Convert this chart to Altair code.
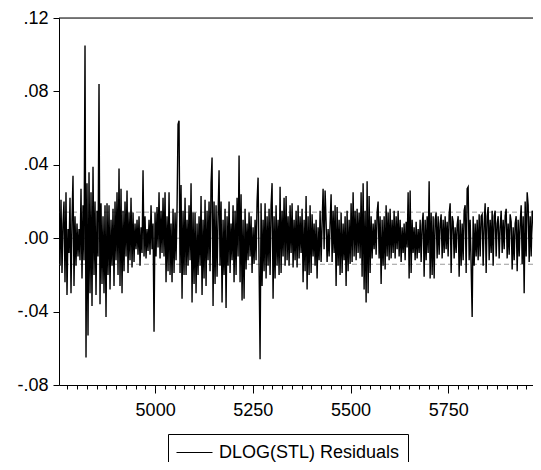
import altair as alt
import pandas as pd

SERIES_NAME = "DLOG(STL) Residuals"
OBS_START = 4754
OBS_STEP = 2.56
X_DOMAIN = [4754, 5967]
Y_DOMAIN = [-0.08, 0.12]
Y_TICKS = [-0.08, -0.04, 0.0, 0.04, 0.08, 0.12]
X_MINOR_TICKS = list(range(4775, 5967, 25))
SE_LEVELS = [0.0142, -0.0142]
ZERO_LEVEL = [0.0]
TOP_LEVEL = [0.12]

# residuals in thousandths
RESID_MILLI = [
    20, -15, 21, -19, 8, 20, -24, 25, -31, 5,
    -8, 22, -30, 10, 34, -26, 12, -15, 8, -10,
    5, -12, 27, -22, 18, -12, 105, -65, 30, -53,
    36, -30, 25, -37, 39, -20, 20, -31, 15, -10,
    84, -36, 19, -25, 12, -30, 18, -43, 19, -20,
    18, -28, 10, -15, 16, -26, 20, -12, 25, -20,
    38, -26, 27, -30, 15, -18, 20, -10, 26, -19,
    14, -12, 22, -16, 14, -13, 8, -6, 10, -9,
    12, -15, 6, -8, 37, -10, 12, -11, 5, -7,
    10, -9, 18, -6, 8, -51, 14, -10, 17, -5,
    25, -11, 15, -8, 22, -10, 25, -24, 12, -18,
    25, -20, 8, -24, 16, -19, 14, -12, 16, 62,
    64, -19, 29, -33, 15, -20, 22, -20, 10, -15,
    18, -12, 30, -35, 14, -25, 14, -30, 8, -20,
    12, -15, 23, -31, 10, -22, 21, -26, 15, -12,
    20, -18, 30, 44, -37, 20, -25, 18, -21, 12,
    37, -15, 20, -35, 10, -20, 16, -38, 12, -15,
    20, -19, 8, -12, 18, -24, 15, -20, 22, -10,
    45, -24, 24, -34, 10, -33, 16, -17, 8, -12,
    14, -10, 12, -19, 6, -14, 10, -12, 20, 33,
    -15, -66, 19, -26, 10, -18, 19, -22, 12, -15,
    16, -20, 18, 30, -33, 12, -22, 18, -15, 10,
    -20, 28, -19, 15, -10, 22, -15, 23, -12, 12,
    -15, 18, -8, 19, -16, 10, -12, 15, -16, 18,
    -11, 12, -8, 16, -24, 10, -18, 23, -28, 12,
    -20, 18, -19, 13, -10, 8, -15, 10, -22, 6,
    -12, 15, -13, 8, 27, -6, 26, 9, -13, 5,
    -10, 8, 24, -13, 15, -8, 18, -26, 17, -15,
    10, -20, 14, -19, 8, -12, 12, -26, 15, -18,
    10, -14, 19, -13, 25, -10, 15, -12, 16, -8,
    14, -11, 25, -21, 30, -28, 15, -35, 31, -30,
    23, -19, 12, -11, 8, -6, 10, -9, 14, 20,
    -11, 12, -25, 10, -15, 12, -17, 18, -10, 14,
    -12, 16, -11, 10, -8, 15, -11, 12, -6, 15,
    -10, 10, -13, 6, -8, 8, -12, 9, -5, 25,
    -22, 26, -19, 10, -8, 6, -12, 9, -11, 5,
    -8, 10, -13, 7, 14, -21, 10, -12, 12, -8,
    31, -22, 14, -20, 12, -22, 10, 14, -11, 12,
    -9, 8, 13, -11, 10, -8, 12, -6, 9, -10,
    13, 19, -19, 12, 9, -11, 6, -8, 7, 12,
    -21, 10, -15, 8, -12, 15, 18, -19, 27, 28,
    -12, 10, -15, -43, 12, -15, 8, -10, 10, -12,
    13, -10, 12, 13, -15, 8, 19, -19, 12, 17,
    -12, 10, -8, 15, -15, 12, 15, -10, 8, 12,
    -11, 6, 15, -8, 10, -6, 12, 16, -11, 8,
    -9, 13, 9, -17, 6, -12, 8, 12, -18, 10,
    -10, 8, 18, -14, 12, -30, 20, -10, 25, 18,
    -13, 12, -10, 15, 11, -6, 8, -4, 10, -5,
    7, -3,
]

FONT = "Liberation Sans"

obs = [OBS_START + i * OBS_STEP for i in range(len(RESID_MILLI))]
df = pd.DataFrame({
    "obs": obs,
    "resid": [v / 1000.0 for v in RESID_MILLI],
    "series": SERIES_NAME,
})

xscale = alt.Scale(domain=X_DOMAIN, nice=False, zero=False)
yscale = alt.Scale(domain=Y_DOMAIN, nice=False, zero=False)

xaxis = alt.Axis(
    values=X_MINOR_TICKS,
    format="d",
    labelExpr="datum.value % 250 === 0 ? datum.label : ''",
    tickSize={"condition": {"test": "datum.value % 250 === 0", "value": 8}, "value": 4},
    tickColor="black",
    domainColor="black",
    domainWidth=1,
    labelFont=FONT,
    labelFontSize=18,
    labelColor="black",
    labelPadding=8,
    labelFlush=False,
    labelOverlap=False,
    grid=False,
    title=None,
)
yaxis = alt.Axis(
    values=Y_TICKS,
    labelExpr="(datum.value < 0 ? '-' : '') + replace(format(abs(datum.value), '.2f'), '0.', '.')",
    tickSize=6,
    tickColor="black",
    domainColor="black",
    domainWidth=1,
    labelFont=FONT,
    labelFontSize=18,
    labelColor="black",
    labelPadding=5,
    grid=False,
    title=None,
)

top_border = alt.Chart(pd.DataFrame({"level": TOP_LEVEL})).mark_rule(
    color="black", strokeWidth=1
).encode(y=alt.Y("level:Q", scale=yscale, axis=yaxis, title=None))

zero_line = alt.Chart(pd.DataFrame({"level": ZERO_LEVEL})).mark_rule(
    color="#9a9a9a", strokeWidth=1
).encode(y=alt.Y("level:Q", scale=yscale, axis=yaxis, title=None))

se_lines = alt.Chart(pd.DataFrame({"level": SE_LEVELS})).mark_rule(
    color="#9a9a9a", strokeWidth=1, strokeDash=[5, 3]
).encode(y=alt.Y("level:Q", scale=yscale, axis=yaxis, title=None))

line = alt.Chart(df).mark_line(strokeWidth=1.4, clip=True).encode(
    x=alt.X("obs:Q", scale=xscale, axis=xaxis, title=None),
    y=alt.Y("resid:Q", scale=yscale, axis=yaxis, title=None),
    color=alt.Color(
        "series:N",
        scale=alt.Scale(range=["#000000"]),
        legend=alt.Legend(
            title=None,
            orient="none",
            legendX=109,
            legendY=416,
            strokeColor="black",
            fillColor="white",
            padding=8,
            symbolType="M-1,0L2.6,0",
            symbolSize=400,
            symbolStrokeWidth=1,
            symbolFillColor="transparent",
            labelFont=FONT,
            labelFontSize=18,
            labelColor="black",
            labelOffset=22,
            labelLimit=400,
        ),
    ),
)

chart = alt.layer(zero_line, se_lines, line, top_border).properties(
    width=474,
    height=367,
    autosize=alt.AutoSizeParams(type="none"),
    padding={"left": 51, "top": 10, "right": 0, "bottom": 77},
).configure_view(stroke=None).configure(background="white")

chart.save("out.html", embed_options={"renderer": "svg", "actions": False})
